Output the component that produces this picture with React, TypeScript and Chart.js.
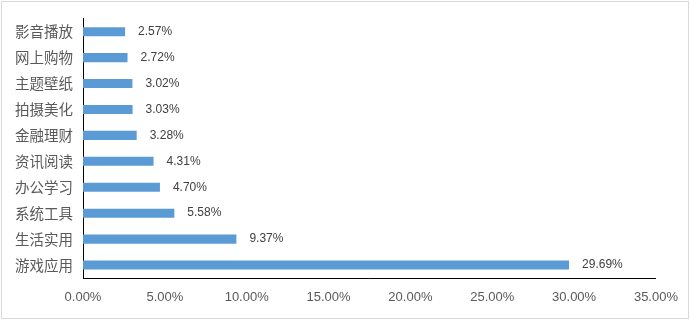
import React, { useEffect, useRef } from "react";
import { Chart, registerables } from "chart.js";

Chart.register(...registerables);

const categories = ["影音播放", "网上购物", "主题壁纸", "拍摄美化", "金融理财", "资讯阅读", "办公学习", "系统工具", "生活实用", "游戏应用"];
const shares = [2.57, 2.72, 3.02, 3.03, 3.28, 4.31, 4.7, 5.58, 9.37, 29.69];
const axisMin = 0;
const axisMax = 35;
const axisStep = 5;

const valueLabels = {
  id: "valueLabels",
  afterDatasetsDraw(chart: any) {
    const ctx = chart.ctx;
    const meta = chart.getDatasetMeta(0);
    const data = chart.data.datasets[0].data;
    ctx.save();
    ctx.font = '12px "Liberation Sans", Arial, sans-serif';
    ctx.fillStyle = "#404040";
    ctx.textAlign = "left";
    ctx.textBaseline = "middle";
    meta.data.forEach((el: any, i: number) => {
      ctx.fillText(Number(data[i]).toFixed(2) + "%", el.x + 13, el.y);
    });
    ctx.restore();
  },
};

export default function App() {
  const ref = useRef<HTMLCanvasElement | null>(null);
  useEffect(() => {
    if (!ref.current) return;
    const chart = new Chart(ref.current, {
      type: "bar",
      data: {
        labels: categories,
        datasets: [
          {
            data: shares,
            backgroundColor: "#5B9BD5",
            barPercentage: 0.35,
            categoryPercentage: 1,
          },
        ],
      },
      options: {
        indexAxis: "y",
        animation: false,
        responsive: false,
        maintainAspectRatio: false,
        layout: { padding: { top: 18, right: 30, bottom: 0, left: 0 } },
        plugins: { legend: { display: false }, tooltip: { enabled: false } },
        scales: {
          x: {
            min: axisMin,
            max: axisMax,
            grid: { display: false, drawTicks: false },
            border: { display: true, color: "#000000", width: 1 },
            ticks: {
              stepSize: axisStep,
              padding: 12,
              color: "#595959",
              font: { family: '"Liberation Sans", Arial, sans-serif', size: 13 },
              callback: (v: any) => Number(v).toFixed(2) + "%",
              maxRotation: 0,
              autoSkip: false,
            },
            afterFit: (s: any) => {
              s.height = 42;
            },
          },
          y: {
            grid: { display: false, drawTicks: false },
            border: { display: true, color: "#000000", width: 1 },
            ticks: {
              padding: 10,
              color: "#595959",
              font: { family: '"Noto Sans CJK SC", sans-serif', size: 14.5 },
            },
            afterFit: (s: any) => {
              s.width = 83;
            },
          },
        },
      },
      plugins: [valueLabels],
    });
    return () => chart.destroy();
  }, []);
  return (
    <div style={{ position: "fixed", left: 0, top: 0, width: 690, height: 320, background: "#fff" }}>
      <div
        style={{
          position: "absolute",
          left: 1,
          top: 1,
          width: 688,
          height: 318,
          border: "1px solid #d9d9d9",
          boxSizing: "border-box",
        }}
      />
      <canvas ref={ref} width={690} height={320} style={{ position: "absolute", left: 0, top: 0 }} />
    </div>
  );
}
